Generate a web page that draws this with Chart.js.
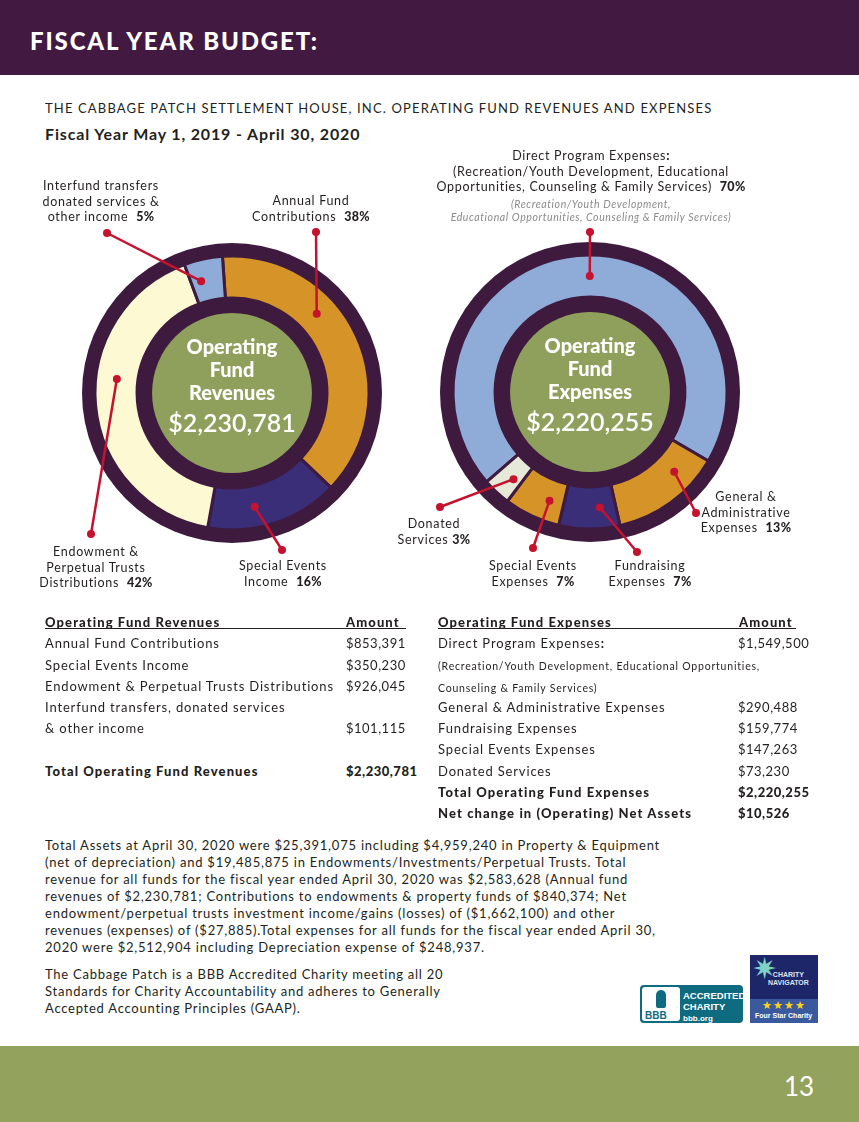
<!DOCTYPE html>
<html>
<head>
<meta charset="utf-8">
<script src="https://cdn.jsdelivr.net/npm/chart.js@4.4.1/dist/chart.umd.min.js"></script>
<style>
  body { margin: 0; background: #fff; }
  #page { position: relative; width: 859px; height: 1122px; overflow: hidden; font-family: Lato, sans-serif; color: #231f20; }
  .abs { position: absolute; white-space: nowrap; }
  .lbl { position: absolute; font-size: 12.5px; line-height: 15.5px; text-align: center; white-space: nowrap; letter-spacing: 0.7px; transform: translateX(-50%); }
  .lbl b { font-weight: 900; letter-spacing: 0.3px; }
  .row { position: absolute; font-size: 13px; letter-spacing: 0.85px; white-space: nowrap; line-height: 16px; }
  .row.bold { font-weight: 900; letter-spacing: 1.1px; }
  .row.amt { letter-spacing: 0.5px; }
  .para { position: absolute; left: 45px; font-size: 13px; line-height: 17px; letter-spacing: 0.78px; white-space: nowrap; }
</style>
</head>
<body>
<div id="page">
  <div class="abs" style="left:0;top:0;width:859px;height:75px;background:#421a41;"></div>
  <div class="abs" style="left:30px;top:26px;color:#fff;font-size:24px;font-weight:900;letter-spacing:1.85px;">FISCAL YEAR BUDGET:</div>
  <div class="abs" style="left:45px;top:100px;font-size:13px;letter-spacing:1.15px;">THE CABBAGE PATCH SETTLEMENT HOUSE, INC. OPERATING FUND REVENUES AND EXPENSES</div>
  <div class="abs" style="left:45px;top:124px;font-size:16px;font-weight:700;letter-spacing:0.85px;">Fiscal Year May 1, 2019 - April 30, 2020</div>

  <canvas id="rev" width="390" height="460" style="position:absolute;left:30px;top:140px;"></canvas>
  <canvas id="exp" width="420" height="460" style="position:absolute;left:420px;top:140px;"></canvas>

  <div class="lbl" style="left:101px;top:178px;">Interfund transfers<br>donated services &amp;<br>other income&nbsp; <b>5%</b></div>
  <div class="lbl" style="left:311px;top:193px;">Annual Fund<br>Contributions&nbsp; <b>38%</b></div>
  <div class="lbl" style="left:96px;top:544px;">Endowment &amp;<br>Perpetual Trusts<br>Distributions&nbsp; <b>42%</b></div>
  <div class="lbl" style="left:283px;top:558px;">Special Events<br>Income&nbsp; <b>16%</b></div>

  <div class="lbl" style="left:591px;top:148px;">Direct Program Expenses<b>:</b><br>(Recreation/Youth Development, Educational<br>Opportunities, Counseling &amp; Family Services)&nbsp; <b>70%</b></div>
  <div class="lbl" style="left:591px;top:198px;font-size:10.5px;line-height:13px;font-style:italic;color:#8a8a8a;letter-spacing:0.6px;">(Recreation/Youth Development,<br>Educational Opportunities, Counseling &amp; Family Services)</div>
  <div class="lbl" style="left:746px;top:489px;">General &amp;<br>Administrative<br>Expenses&nbsp; <b>13%</b></div>
  <div class="lbl" style="left:434px;top:516px;">Donated<br>Services <b>3%</b></div>
  <div class="lbl" style="left:533px;top:558px;">Special Events<br>Expenses&nbsp; <b>7%</b></div>
  <div class="lbl" style="left:650px;top:558px;">Fundraising<br>Expenses&nbsp; <b>7%</b></div>

  <div id="tables"></div>

  <div class="para" style="top:837px;">Total Assets at April 30, 2020 were $25,391,075 including $4,959,240 in Property &amp; Equipment<br>(net of depreciation) and $19,485,875 in Endowments/Investments/Perpetual Trusts. Total<br>revenue for all funds for the fiscal year ended April 30, 2020 was $2,583,628 (Annual fund<br>revenues of $2,230,781; Contributions to endowments &amp; property funds of $840,374; Net<br>endowment/perpetual trusts investment income/gains (losses) of ($1,662,100) and other<br>revenues (expenses) of ($27,885).Total expenses for all funds for the fiscal year ended April 30,<br>2020 were $2,512,904 including Depreciation expense of $248,937.</div>
  <div class="para" style="top:966px;letter-spacing:0.75px;">The Cabbage Patch is a BBB Accredited Charity meeting all 20<br>Standards for Charity Accountability and adheres to Generally<br>Accepted Accounting Principles (GAAP).</div>

  <!-- BBB badge -->
  <div class="abs" style="left:640px;top:985px;width:103px;height:38px;background:#0f6b80;border-radius:4px;"></div>
  <div class="abs" style="left:642px;top:987px;width:38px;height:34px;background:#fff;border-radius:3px;"></div>
  <div class="abs" style="left:656px;top:990px;width:10px;height:18px;background:#0f6b80;border-radius:5px 5px 2px 2px;"></div>
  <div class="abs" style="left:645px;top:1010px;color:#0f6b80;font-size:10px;font-weight:900;font-family:'Liberation Sans';">BBB</div>
  <div class="abs" style="left:683px;top:990px;color:#fff;font-size:9.5px;font-weight:700;line-height:11px;font-family:'Liberation Sans';">ACCREDITED<br>CHARITY<br><span style="font-size:8px;">bbb.org</span></div>
  <!-- Charity Navigator badge -->
  <div class="abs" style="left:750px;top:955px;width:68px;height:68px;background:#1c2669;"></div>
  <div class="abs" style="left:750px;top:999px;width:68px;height:24px;background:#3b5a9e;"></div>
  <div class="abs" style="left:752px;top:952px;color:#7fd3c4;font-size:30px;line-height:30px;">✷</div>
  <div class="abs" style="left:768px;top:971px;color:#dfe4f2;font-size:7px;line-height:8px;font-weight:700;font-family:'Liberation Sans';text-align:center;">CHARITY<br>NAVIGATOR</div>
  <div class="abs" style="left:762px;top:998px;color:#ffd21a;font-size:11px;letter-spacing:1px;">★★★★</div>
  <div class="abs" style="left:755px;top:1012px;color:#fff;font-size:7px;font-weight:700;font-family:'Liberation Sans';">Four Star Charity</div>

  <div class="abs" style="left:0;top:1046px;width:859px;height:76px;background:#93a35e;"></div>
  <div class="abs" style="left:784px;top:1070px;color:#fff;font-size:26px;">13</div>
</div>

<script>
// revenue data
const revenueLabels = ["Annual Fund Contributions", "Special Events Income", "Endowment & Perpetual Trusts Distributions", "Interfund transfers, donated services & other income"];
const revenueValues = [853391, 350230, 926045, 101115];
const revenueTotal = 2230781;

// expense data
const expenseLabels = ["Direct Program Expenses", "General & Administrative Expenses", "Fundraising Expenses", "Special Events Expenses", "Donated Services"];
const expenseValues = [1549500, 290488, 159774, 147263, 73230];
const expenseTotal = 2220255;
const netChange = 10526;

const DARK = "#3f1a3f";
const GREEN = "#8fa05c";
const RED = "#c4122f";
const revenueColors = ["#d69327", "#3a2e78", "#fdf9d3", "#8fabd8"];
const expenseColors = ["#8fabd8", "#d69327", "#3a2e78", "#d69327", "#e6e8d8"];

const money = v => "$" + v.toLocaleString("en-US");

// leader lines: fraction along the slice, end point on the page
const revenueLeaders = [
    { frac: 0.37, end: [316, 232] },
    { frac: 0.62, end: [282, 550] },
    { frac: 0.58, end: [91, 534] },
    { frac: 0.3, end: [107, 233] }
];
const expenseLeaders = [
    { frac: 0.521, end: [590, 232] },
    { frac: 0.28, end: [696, 513] },
    { frac: 0.3, end: [637, 552] },
    { frac: 0.3, end: [533, 548] },
    { frac: 0.35, end: [440, 507] }
];

function donutPlugin(title, total, leaders, offX, offY) {
    return {
        id: "donut",
        beforeDatasetsDraw(chart) {
            const ctx = chart.ctx;
            const a = chart.getDatasetMeta(0).data[0];
            ctx.save();
            ctx.fillStyle = DARK;
            ctx.beginPath();
            ctx.arc(a.x, a.y, a.outerRadius + 13, 0, Math.PI * 2);
            ctx.fill();
            ctx.restore();
        },
        afterDatasetsDraw(chart) {
            const ctx = chart.ctx;
            const arcs = chart.getDatasetMeta(0).data;
            const a = arcs[0];
            ctx.save();
            ctx.fillStyle = GREEN;
            ctx.beginPath();
            ctx.arc(a.x, a.y, a.innerRadius - 15, 0, Math.PI * 2);
            ctx.fill();

            ctx.fillStyle = "#fff";
            ctx.textAlign = "center";
            ctx.textBaseline = "middle";
            ctx.font = "900 20px Lato";
            ctx.fillText("Operating", a.x, a.y - 45);
            ctx.fillText("Fund", a.x, a.y - 22);
            ctx.fillText(title, a.x, a.y + 1);
            ctx.font = "600 25px Lato";
            ctx.fillText(money(total), a.x, a.y + 31);

            // leaders
            ctx.strokeStyle = RED;
            ctx.fillStyle = RED;
            ctx.lineWidth = 2.5;
            arcs.forEach((arc, i) => {
                const L = leaders[i];
                const ang = arc.startAngle + L.frac * (arc.endAngle - arc.startAngle);
                const r = (arc.innerRadius + arc.outerRadius) / 2;
                const x1 = arc.x + Math.cos(ang) * r, y1 = arc.y + Math.sin(ang) * r;
                const x2 = L.end[0] - offX, y2 = L.end[1] - offY;
                ctx.beginPath();
                ctx.moveTo(x1, y1);
                ctx.lineTo(x2, y2);
                ctx.stroke();
                [[x1, y1], [x2, y2]].forEach(p => {
                    ctx.beginPath();
                    ctx.arc(p[0], p[1], 4, 0, Math.PI * 2);
                    ctx.fill();
                });
            });
            ctx.restore();
        }
    };
}

function makeDonut(id, labels, values, colors, rotation, padding, title, total, leaders, offX, offY) {
    new Chart(document.getElementById(id), {
        type: "doughnut",
        data: {
            labels: labels,
            datasets: [{
                data: values,
                backgroundColor: colors,
                borderColor: DARK,
                borderWidth: 3
            }]
        },
        options: {
            responsive: false,
            animation: false,
            radius: 137,
            cutout: "69.3%",
            rotation: rotation,
            layout: { padding: padding },
            plugins: { legend: { display: false }, tooltip: { enabled: false } }
        },
        plugins: [donutPlugin(title, total, leaders, offX, offY)]
    });
}

makeDonut("rev", revenueLabels, revenueValues, revenueColors, -4,
    { left: 52, right: 38, top: 103, bottom: 57 }, "Revenues", revenueTotal, revenueLeaders, 30, 140);
makeDonut("exp", expenseLabels, expenseValues, expenseColors, -131,
    { left: 20, right: 100, top: 102, bottom: 58 }, "Expenses", expenseTotal, expenseLeaders, 420, 140);

// tables
const tables = document.getElementById("tables");
function addRow(x, y, text, cls, amtX, amt) {
    const d = document.createElement("div");
    d.className = "row " + (cls || "");
    d.style.left = x + "px";
    d.style.top = (y - 8) + "px";
    d.innerHTML = text;
    tables.appendChild(d);
    if (amt !== undefined) {
        const e = document.createElement("div");
        e.className = "row amt " + (cls || "");
        e.style.left = amtX + "px";
        e.style.top = (y - 8) + "px";
        e.style.letterSpacing = "0.5px";
        e.textContent = amt;
        tables.appendChild(e);
    }
}
function addLine(x1, x2, y) {
    const d = document.createElement("div");
    d.style.cssText = `position:absolute;left:${x1}px;top:${y}px;width:${x2 - x1}px;height:1px;background:#231f20;`;
    tables.appendChild(d);
}

// revenues table
addRow(45, 622, "Operating Fund Revenues", "bold");
addRow(346, 622, "Amount", "bold");
addLine(45, 406, 628);
addRow(45, 643, "Annual Fund Contributions", "", 346, money(revenueValues[0]));
addRow(45, 665, "Special Events Income", "", 346, money(revenueValues[1]));
addRow(45, 686, "Endowment &amp; Perpetual Trusts Distributions", "", 346, money(revenueValues[2]));
addRow(45, 707, "Interfund transfers, donated services", "");
addRow(45, 728, "&amp; other income", "", 346, money(revenueValues[3]));
addRow(45, 771, "Total Operating Fund Revenues", "bold", 346, money(revenueTotal));

// expenses table
addRow(438, 622, "Operating Fund Expenses", "bold");
addRow(739, 622, "Amount", "bold");
addLine(438, 796, 628);
addRow(438, 643, "Direct Program Expenses<b>:</b>", "", 738, money(expenseValues[0]));
addRow(438, 665, "<span style='font-size:10.5px;letter-spacing:0.8px'>(Recreation/Youth Development, Educational Opportunities,</span>", "");
addRow(438, 687, "<span style='font-size:10.5px;letter-spacing:0.8px'>Counseling &amp; Family Services)</span>", "");
addRow(438, 707, "General &amp; Administrative Expenses", "", 738, money(expenseValues[1]));
addRow(438, 728, "Fundraising Expenses", "", 738, money(expenseValues[2]));
addRow(438, 749, "Special Events Expenses", "", 738, money(expenseValues[3]));
addRow(438, 771, "Donated Services", "", 738, money(expenseValues[4]));
addRow(438, 792, "Total Operating Fund Expenses", "bold", 738, money(expenseTotal));
addRow(438, 813, "Net change in (Operating) Net Assets", "bold", 738, money(netChange));
</script>
</body>
</html>
